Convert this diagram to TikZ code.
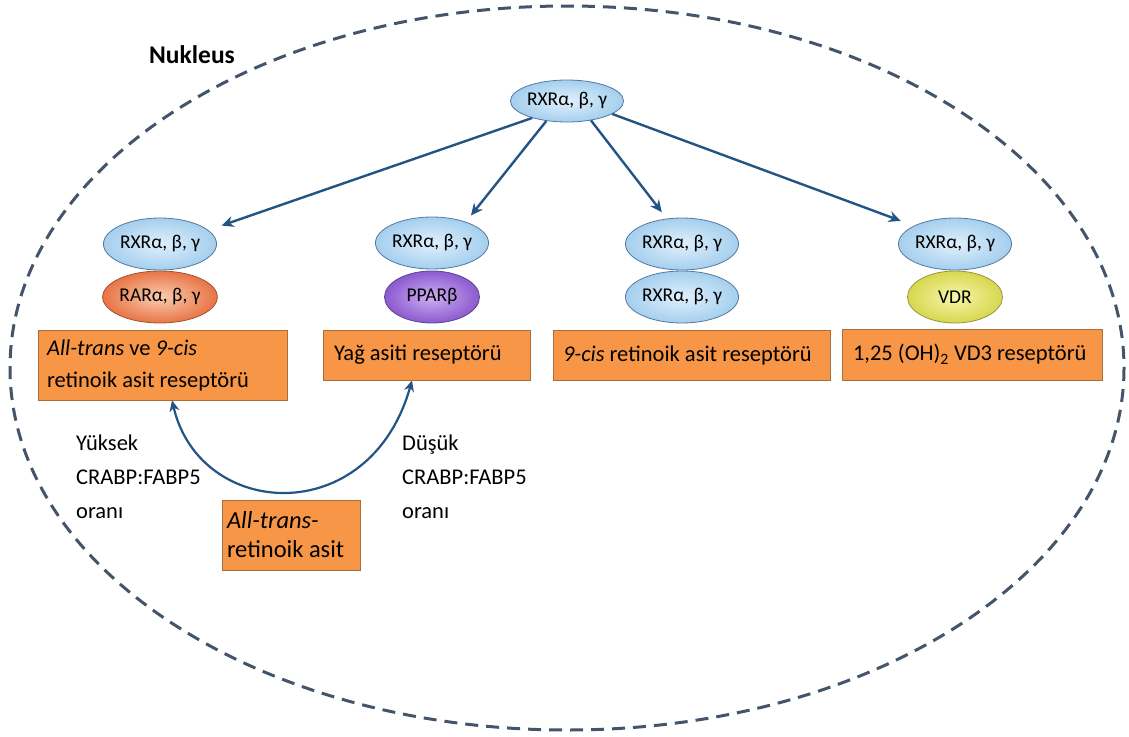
\documentclass[tikz,border=0pt]{standalone}
\usepackage{fontspec}
\setmainfont{Carlito}
\usetikzlibrary{shapes.geometric,arrows.meta,calc}
\definecolor{nucc}{RGB}{68,84,106}
\definecolor{arrc}{RGB}{34,84,134}
\definecolor{boxfill}{RGB}{247,150,70}
\definecolor{boxline}{RGB}{170,110,60}
\definecolor{blin}{RGB}{224,240,252}
\definecolor{blout}{RGB}{165,207,238}
\definecolor{blline}{RGB}{84,120,160}
\definecolor{orin}{RGB}{250,205,175}
\definecolor{orout}{RGB}{232,116,70}
\definecolor{orline}{RGB}{160,85,50}
\definecolor{puin}{RGB}{205,175,245}
\definecolor{puout}{RGB}{140,90,205}
\definecolor{puline}{RGB}{95,65,155}
\definecolor{yein}{RGB}{246,246,170}
\definecolor{yeout}{RGB}{215,215,80}
\definecolor{yeline}{RGB}{150,150,60}
\tikzset{
  nucleus/.style={draw=nucc, line width=3pt, dash pattern=on 13pt off 8pt},
  recep/.style={ellipse, inner sep=0pt, minimum width=95pt, minimum height=52pt,
    font=\fontsize{19.5}{22}\selectfont},
  bluee/.style={recep, draw=blline, line width=0.8pt, inner color=blin, outer color=blout},
  orae/.style={recep, draw=orline, line width=0.8pt, inner color=orin, outer color=orout},
  pure/.style={recep, draw=puline, line width=0.8pt, inner color=puin, outer color=puout},
  yele/.style={recep, draw=yeline, line width=0.8pt, inner color=yein, outer color=yeout},
  rbox/.style={draw=boxline, fill=boxfill, line width=0.8pt, align=flush left, inner xsep=9pt,
    inner ysep=0pt, font=\fontsize{22.5}{32}\selectfont},
  lbl/.style={align=left, inner sep=0pt, font=\fontsize{22.5}{34}\selectfont},
  arr/.style={draw=arrc, line width=2.4pt, -{Stealth[length=12pt,width=11pt]}},
  curv/.style={draw=arrc, line width=2.2pt, {Stealth[length=11pt,width=10pt]}-{Stealth[length=11pt,width=10pt]}}
}
\begin{document}
\begin{tikzpicture}[x=1pt,y=-1pt]
\useasboundingbox (0,0) rectangle (1129,736);
\draw[nucleus] (567,368) ellipse [x radius=557, y radius=362];
\node[font=\bfseries\fontsize{25.5}{28}\selectfont] (nuc) at (192,55) {Nukleus};

\node[bluee, minimum width=92pt, minimum height=42pt] (top) at (567,101) {RXRα, β, γ};

\node[bluee] (r1) at (160,244) {RXRα, β, γ};
\node[orae] (p1) at (160,297) {RARα, β, γ};
\node[bluee] (r2) at (432,243) {RXRα, β, γ};
\node[pure] (p2) at (432,297) {PPARβ};
\node[bluee] (r3) at (682,244) {RXRα, β, γ};
\node[bluee] (p3) at (682,297) {RXRα, β, γ};
\node[bluee] (r4) at (955,244) {RXRα, β, γ};
\node[yele] (p4) at (955,297) {VDR};

\node[rbox, minimum height=70pt, text width=231pt] (b1) at (162.5,365)
  {\textit{All-trans} ve \textit{9-cis}\\retinoik asit reseptörü};
\node[rbox, minimum height=50pt, text width=185pt, inner xsep=11pt] (b2) at (426.5,355) {Yağ asiti reseptörü};
\node[rbox, minimum height=50pt, text width=257pt, inner xsep=10pt] (b3) at (691.5,355) {\textit{9-cis} retinoik asit reseptörü};
\node[rbox, minimum height=51pt, text width=238pt, inner xsep=11pt] (b4) at (972,354.5) {1,25 (OH)\textsubscript{2} VD3 reseptörü};
\node[rbox, minimum height=70pt, text width=128pt, inner xsep=5pt, font=\fontsize{24.5}{29}\selectfont] (b5) at (291,535)
  {\textit{All-trans-}\\retinoik asit};

\node[lbl, anchor=west] (hi) at (76,477) {Yüksek\\CRABP:FABP5\\oranı};
\node[lbl, anchor=west] (lo) at (402,477) {Düşük\\CRABP:FABP5\\oranı};

\draw[arr, shorten >=14pt] (top.206) -- (r1.16);
\draw[arr, shorten >=8pt] (top.224) -- (r2.32);
\draw[arr, shorten >=8pt] (top.321) -- (r3.121);
\draw[arr, shorten >=14pt] (top.344) -- (r4.156);

\draw[curv] ([xshift=9.5pt]b1.south) .. controls (200,520) and (370,530) .. ([xshift=-14.5pt]b2.south);
\end{tikzpicture}
\end{document}
